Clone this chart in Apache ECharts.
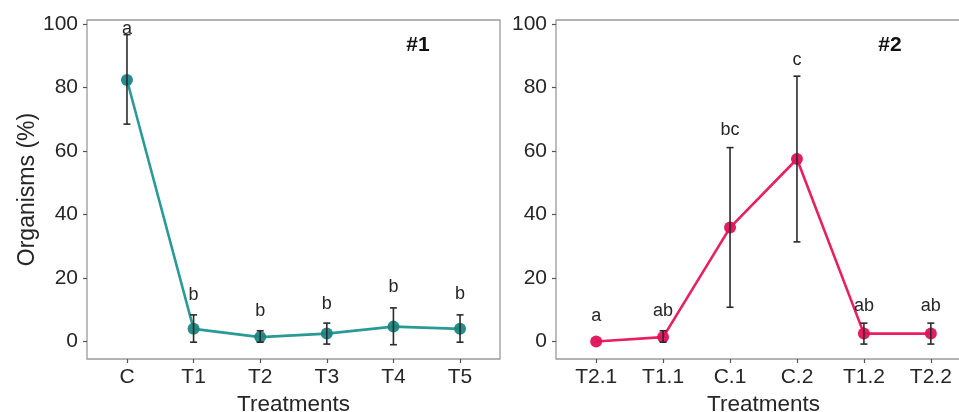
<!DOCTYPE html>
<html>
<head>
<meta charset="utf-8">
<script src="https://cdn.jsdelivr.net/npm/echarts@6/dist/echarts.min.js"></script>
<style>html,body{margin:0;padding:0;background:#fff;}#c{width:959px;height:412px;}</style>
</head>
<body>
<div id="c"></div>
<script>
// ---- Data ----
const cats1 = ['C', 'T1', 'T2', 'T3', 'T4', 'T5'];
const mean1 = [82.4, 4.0, 1.4, 2.5, 4.7, 4.0];
const upper1 = [96.7, 8.4, 3.4, 5.8, 10.6, 8.4];
const lower1 = [68.5, -0.2, -0.2, -0.8, -1.0, -0.2];
const letters1 = ['a', 'b', 'b', 'b', 'b', 'b'];
const letterY1 = [98.6, 14.7, 9.5, 11.9, 17.2, 14.9];

const cats2 = ['T2.1', 'T1.1', 'C.1', 'C.2', 'T1.2', 'T2.2'];
const mean2 = [0.0, 1.4, 35.9, 57.5, 2.5, 2.5];
const upper2 = [0.0, 3.4, 61.1, 83.6, 5.8, 5.8];
const lower2 = [0.0, -0.2, 10.8, 31.4, -0.8, -0.8];
const letters2 = ['a', 'ab', 'bc', 'c', 'ab', 'ab'];
const letterY2 = [7.9, 9.7, 66.6, 88.7, 11.2, 11.2];

const yTicks = [0, 20, 40, 60, 80, 100];
const panelTags = ['#1', '#2'];

// ---- Styling ----
const FONT = 'Liberation Sans, Arial, sans-serif';
const TXT = '#262626';
const lineColors = ['#2a9a96', '#e8205e'];
const pointColors = ['#1b8581', '#e0125a'];

function xAxis(gi, cats, showName) {
  return {
    type: 'value', gridIndex: gi, min: -0.6, max: 5.6,
    axisLine: { show: false, onZero: false },
    splitLine: { show: false },
    axisTick: { show: true, length: 4, lineStyle: { color: '#555', width: 1.2 }, customValues: cats.map((c, i) => i) },
    axisLabel: { color: TXT, fontSize: 21, fontFamily: FONT, margin: 8,
      customValues: cats.map((c, i) => i), formatter: v => cats[Math.round(v)] },
    name: showName ? 'Treatments' : '', nameLocation: 'middle', nameGap: 31,
    nameTextStyle: { color: TXT, fontSize: 22.5, fontFamily: FONT }
  };
}
function yAxis(gi, showName) {
  return {
    type: 'value', gridIndex: gi, min: -5.5, max: 101.3,
    axisLine: { show: false, onZero: false },
    splitLine: { show: false },
    axisTick: { show: true, length: 4, lineStyle: { color: '#555', width: 1.2 }, customValues: yTicks },
    axisLabel: { color: TXT, fontSize: 21, fontFamily: FONT, margin: 9, customValues: yTicks },
    name: showName ? 'Organisms (%)' : '', nameLocation: 'middle', nameGap: 46, nameRotate: 90,
    nameTextStyle: { color: TXT, fontSize: 23, fontFamily: FONT }
  };
}

function seriesFor(gi, mean, upper, lower, letters, letterY) {
  const pts = mean.map((v, i) => [i, v]);
  return [
    {
      type: 'line', xAxisIndex: gi, yAxisIndex: gi, data: pts,
      symbol: 'circle', symbolSize: 12, z: 2,
      lineStyle: { color: lineColors[gi], width: 2.6 },
      itemStyle: { color: pointColors[gi], opacity: 0.95 },
      animation: false
    },
    {
      type: 'custom', xAxisIndex: gi, yAxisIndex: gi, z: 3, animation: false,
      data: mean.map((v, i) => [i, lower[i], upper[i]]),
      renderItem: function (params, api) {
        const x = api.value(0);
        const lo = api.coord([x, api.value(1)]);
        const hi = api.coord([x, api.value(2)]);
        const w = 3.5;
        const st = { stroke: '#2b2b2b', lineWidth: 1.6 };
        if (Math.abs(hi[1] - lo[1]) < 0.5) return { type: 'group', children: [] };
        return { type: 'group', children: [
          { type: 'line', shape: { x1: lo[0], y1: lo[1], x2: hi[0], y2: hi[1] }, style: st },
          { type: 'line', shape: { x1: lo[0] - w, y1: lo[1], x2: lo[0] + w, y2: lo[1] }, style: st },
          { type: 'line', shape: { x1: hi[0] - w, y1: hi[1], x2: hi[0] + w, y2: hi[1] }, style: st }
        ]};
      }
    },
    {
      type: 'custom', xAxisIndex: gi, yAxisIndex: gi, z: 4, animation: false,
      data: letters.map((l, i) => [i, letterY[i]]),
      renderItem: function (params, api) {
        const p = api.coord([api.value(0), api.value(1)]);
        return { type: 'text', x: p[0], y: p[1], style: {
          text: letters[params.dataIndex], fill: TXT, fontSize: 18, fontFamily: FONT,
          align: 'center', verticalAlign: 'middle' } };
      }
    }
  ];
}

const chart = echarts.init(document.getElementById('c'), null, { renderer: 'canvas' });
const gridBase = { top: 20, bottom: 53, show: true, borderColor: '#9a9a9a', borderWidth: 1.3,
  backgroundColor: 'transparent', containLabel: false, outerBoundsMode: 'none' };
chart.setOption({
  backgroundColor: '#fff',
  animation: false,
  grid: [
    Object.assign({ left: 87, right: 459 }, gridBase),
    Object.assign({ left: 556, right: -12 }, gridBase)
  ],
  xAxis: [xAxis(0, cats1, true), xAxis(1, cats2, true)],
  yAxis: [yAxis(0, true), yAxis(1, false)],
  series: [].concat(
    seriesFor(0, mean1, upper1, lower1, letters1, letterY1),
    seriesFor(1, mean2, upper2, lower2, letters2, letterY2)
  ),
  graphic: [
    { type: 'text', x: 418, y: 45, style: { text: panelTags[0], fill: '#111', fontSize: 21, fontWeight: 'bold', fontFamily: FONT, align: 'center', verticalAlign: 'middle' } },
    { type: 'text', x: 890, y: 45, style: { text: panelTags[1], fill: '#111', fontSize: 21, fontWeight: 'bold', fontFamily: FONT, align: 'center', verticalAlign: 'middle' } }
  ]
});
</script>
</body>
</html>
